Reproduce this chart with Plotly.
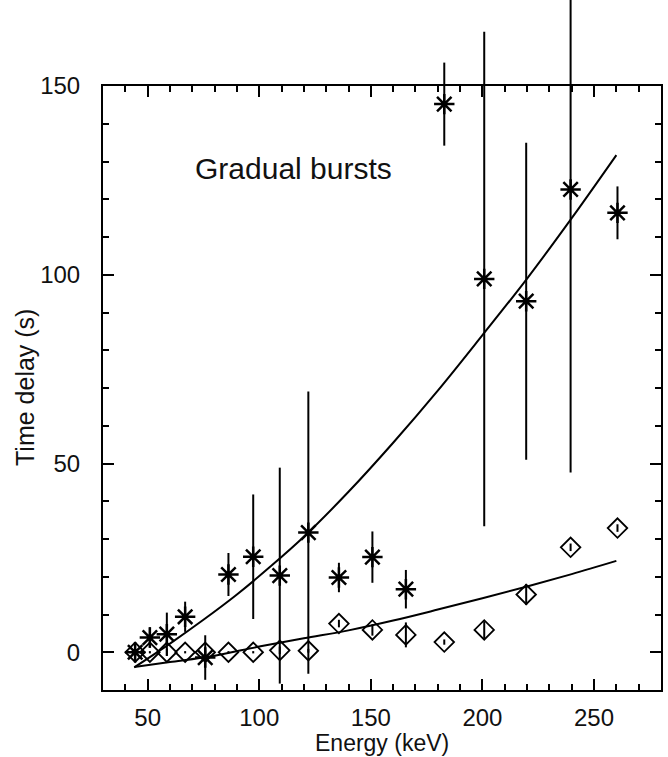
import plotly.graph_objects as go

# Energies (keV) of the data points
energy = [44.4, 51.0, 58.6, 66.8, 75.8, 86.2, 97.3, 109.2, 122.0, 135.7,
          150.7, 165.7, 182.9, 200.8, 219.6, 239.5, 260.5]

# Gradual bursts: star series (time delay, s) and errors
star_delay = [0.0, 3.9, 4.8, 9.4, -1.4, 20.6, 25.3, 20.3, 31.7, 19.8,
              25.2, 16.7, 145.2, 98.9, 93.0, 122.6, 116.4]
star_err = [0.5, 2.7, 5.7, 4.0, 5.9, 5.7, 16.5, 28.6, 37.4, 3.9,
            6.8, 5.1, 11.0, 65.5, 42.0, 75.0, 7.0]

# Diamond series (time delay, s) and errors
dia_delay = [0.0, 0.0, 0.0, 0.0, 0.0, 0.0, 0.0, 0.5, 0.4, 7.6,
             5.9, 4.6, 2.7, 5.9, 15.3, 27.8, 32.9]
dia_err = [0.3, 0.3, 1.0, 0.3, 0.5, 0.3, 0.3, 1.0, 0.5, 1.0,
           1.5, 3.3, 0.7, 2.3, 2.8, 1.0, 1.0]

# Fitted curves
fit_star_e = [44, 60, 75, 90, 105, 120, 140, 160, 180, 200, 220, 240, 260]
fit_star_y = [-4.0, 2.3, 8.6, 15.3, 22.7, 30.6, 42.5, 55.5, 69.3, 84.0, 99.0, 115.0, 131.7]
fit_dia_e = [44, 60, 80, 100, 120, 140, 160, 180, 200, 220, 240, 260]
fit_dia_y = [-3.9, -2.6, -0.9, 1.5, 3.7, 5.8, 8.4, 11.3, 14.3, 17.4, 20.7, 24.2]

x_ticks = [50, 100, 150, 200, 250]
y_ticks = [0, 50, 100, 150]

X_RANGE = [30, 280]
Y_RANGE = [-10, 150]

FONT = "Liberation Sans, Arial, sans-serif"
W, H = 668, 757
M_L, M_R, M_B = 103, 7, 67
FRAME_TOP_PX = 86  # pixel row of the top of the frame

plot_h = H - M_B            # full drawing height (top margin 0)
frame_h = plot_h - FRAME_TOP_PX
dom_top = frame_h / plot_h
# second (invisible) y axis spanning to the page top, same scale, so error bars are not clipped at the frame
y2_top = Y_RANGE[0] + (Y_RANGE[1] - Y_RANGE[0]) * plot_h / frame_h

fig = go.Figure()

fig.add_trace(go.Scatter(
    x=fit_star_e, y=fit_star_y, mode="lines", line=dict(color="black", width=2, shape="spline"),
    showlegend=False, hoverinfo="skip"))
fig.add_trace(go.Scatter(
    x=fit_dia_e, y=fit_dia_y, mode="lines", line=dict(color="black", width=2, shape="spline"),
    showlegend=False, hoverinfo="skip"))

fig.add_trace(go.Scatter(
    x=energy, y=dia_delay, mode="markers", xaxis="x2", yaxis="y2",
    marker=dict(symbol="diamond-open", size=15, color="black", line=dict(width=1.8, color="black")),
    error_y=dict(type="data", array=dia_err, visible=True, color="black", thickness=2, width=0),
    showlegend=False))

fig.add_trace(go.Scatter(
    x=energy, y=star_delay, mode="markers", xaxis="x2", yaxis="y2",
    marker=dict(symbol="asterisk-open", size=17, color="black", line=dict(width=2.5, color="black")),
    error_y=dict(type="data", array=star_err, visible=True, color="black", thickness=2, width=0),
    showlegend=False))

fig.add_annotation(x=70.4, y=128.2, xref="x", yref="y", text="Gradual bursts",
                   showarrow=False, xanchor="left", yanchor="middle",
                   font=dict(family=FONT, size=30, color="#111"))

fig.add_annotation(x=0.5, y=0, xref="paper", yref="paper", text="Energy (keV)",
                   showarrow=False, xanchor="center", yanchor="middle", yshift=-53,
                   font=dict(family=FONT, size=23, color="#111"))
fig.add_annotation(x=0, y=dom_top / 2, xref="paper", yref="paper", text="Time delay (s)",
                   showarrow=False, xanchor="center", yanchor="middle", xshift=-78, textangle=-90,
                   font=dict(family=FONT, size=25, color="#111"))

axis_common = dict(
    showline=True, linecolor="black", linewidth=2, mirror="ticks",
    ticks="inside", ticklen=11, tickwidth=2, tickcolor="black",
    showgrid=False, zeroline=False, automargin=False,
    tickfont=dict(family=FONT, size=24, color="#111"),
    minor=dict(ticks="inside", ticklen=6, tickwidth=1.5, tickcolor="black", dtick=10, showgrid=False),
)

fig.update_layout(
    width=W, height=H,
    margin=dict(l=M_L, r=M_R, t=0, b=M_B),
    plot_bgcolor="rgba(0,0,0,0)", paper_bgcolor="white",
    xaxis=dict(range=X_RANGE, tickvals=x_ticks, ticktext=[str(v) for v in x_ticks],
               anchor="y", ticklabelstandoff=5, **axis_common),
    yaxis=dict(range=Y_RANGE, tickvals=y_ticks, ticktext=[str(v) for v in y_ticks],
               domain=[0, dom_top], anchor="x", ticklabelstandoff=16, **axis_common),
    xaxis2=dict(range=X_RANGE, domain=[0, 1], anchor="y2", visible=False, overlaying="x"),
    yaxis2=dict(range=[Y_RANGE[0], y2_top], domain=[0, 1], anchor="x2", visible=False),
)

fig.write_html("out.html", config={"displayModeBar": False},
               post_script="document.body.style.margin='0';")
